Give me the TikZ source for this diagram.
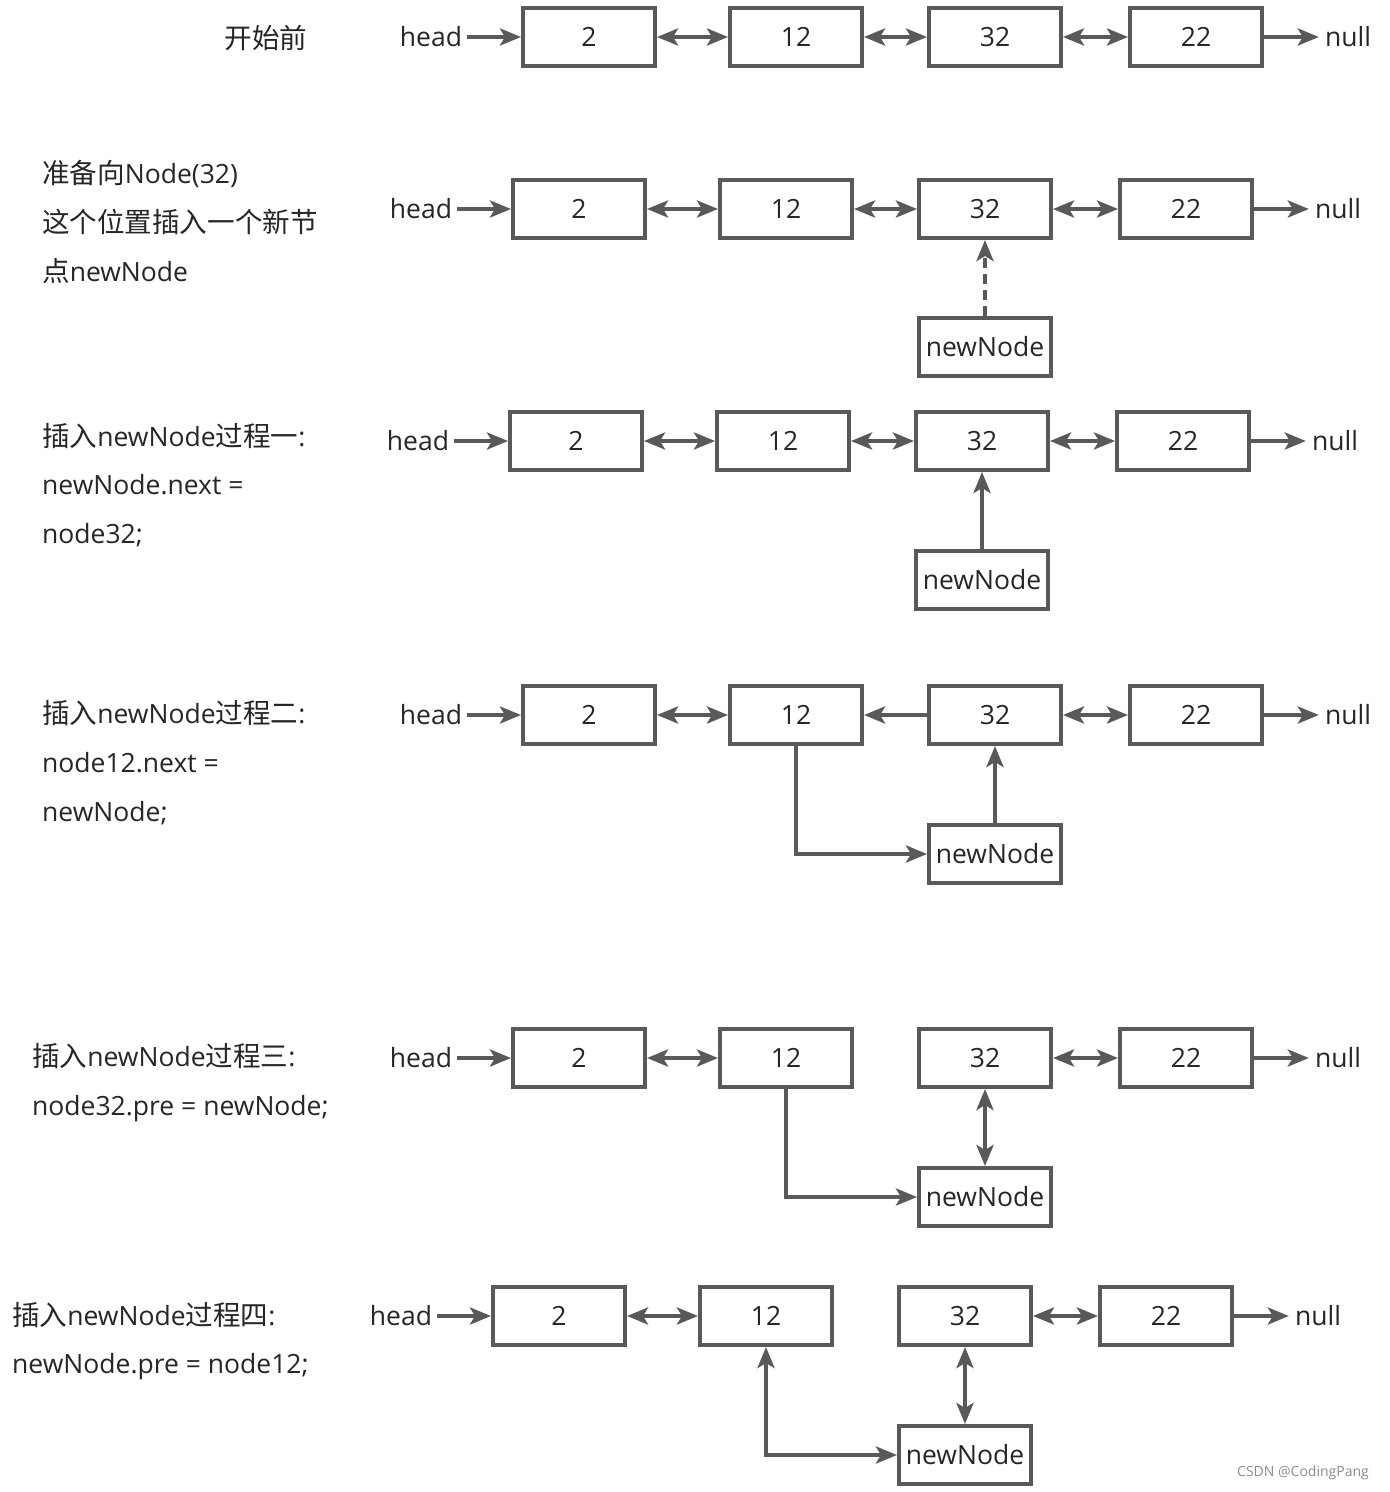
\documentclass[tikz,border=0pt]{standalone}
\usepackage{fontspec}
\setmainfont{Open Sans}
\newfontfamily\cjk[Scale=1.04]{Noto Sans CJK SC}
\usetikzlibrary{arrows.meta}
\definecolor{ln}{HTML}{595959}
\definecolor{tx}{HTML}{262626}
\tikzset{
  tipst/.tip={Stealth[length=21pt,width=17pt,inset=5pt]},
  lbox/.style={draw=ln, line width=4pt, minimum width=132pt, minimum height=58pt, inner sep=0pt, text=tx, font=\fontsize{26.5}{30}\selectfont},
  side/.style={text=tx, inner sep=0pt, font=\fontsize{26.5}{30}\selectfont},
  note/.style={anchor=base west, text=tx, inner sep=0pt, font=\fontsize{26.5}{30}\selectfont},
  conn/.style={draw=ln, line width=4pt, -tipst},
  dconn/.style={draw=ln, line width=4pt, tipst-tipst},
  dashconn/.style={conn, dash pattern=on 10pt off 6pt}
}
\newcommand\llrow[3]{%
  \node[lbox] (#1a) at (#2,#3) {2};
  \node[lbox] (#1b) at ({#2+207},#3) {12};
  \node[lbox] (#1c) at ({#2+406},#3) {32};
  \node[lbox] (#1d) at ({#2+607},#3) {22};
  \node[side, inner xsep=5pt] (#1h) at ({#2-158},#3) {head};
  \node[side, inner xsep=6pt] (#1n) at ({#2+759},#3) {null};
  \draw[conn] (#1h) -- (#1a);
  \draw[dconn] (#1a) -- (#1b);
  \draw[dconn] (#1c) -- (#1d);
  \draw[conn] (#1d) -- (#1n);
}
\begin{document}
\begin{tikzpicture}[x=1pt,y=-1pt]
\useasboundingbox[fill=white] (0,0) rectangle (1390,1492);

% row 1
\node[side] (t1) at (266,38) {\cjk 开始前};
\llrow{r1}{589}{37}
\draw[dconn] (r1b) -- (r1c);

% row 2
\node[note] (t2a) at (42,183) {\cjk 准备向\rmfamily Node(32)};
\node[note] (t2b) at (42,232) {\cjk 这个位置插入一个新节};
\node[note] (t2c) at (42,281) {\cjk 点\rmfamily newNode};
\llrow{r2}{579}{209}
\draw[dconn] (r2b) -- (r2c);
\node[lbox] (r2new) at (985,347) {newNode};
\draw[dashconn] (r2new) -- (r2c);

% row 3
\node[note] (t3a) at (42,446) {{\cjk 插入}newNode{\cjk 过程一}:};
\node[note] (t3b) at (42,494) {newNode.next =};
\node[note] (t3c) at (42,543) {node32;};
\llrow{r3}{576}{441}
\draw[dconn] (r3b) -- (r3c);
\node[lbox] (r3new) at (982,580) {newNode};
\draw[conn] (r3new) -- (r3c);

% row 4
\node[note] (t4a) at (42,723) {{\cjk 插入}newNode{\cjk 过程二}:};
\node[note] (t4b) at (42,772) {node12.next =};
\node[note] (t4c) at (42,821) {newNode;};
\llrow{r4}{589}{715}
\draw[conn] (r4c) -- (r4b);
\node[lbox] (r4new) at (995,854) {newNode};
\draw[conn] (r4new) -- (r4c);
\draw[conn] (r4b.south) |- (r4new.west);

% row 5
\node[note] (t5a) at (32,1066) {{\cjk 插入}newNode{\cjk 过程三}:};
\node[note] (t5b) at (32,1115) {node32.pre = newNode;};
\llrow{r5}{579}{1058}
\node[lbox] (r5new) at (985,1197) {newNode};
\draw[dconn] (r5new) -- (r5c);
\draw[conn] (r5b.south) |- (r5new.west);

% row 6
\node[note] (t6a) at (12,1325) {{\cjk 插入}newNode{\cjk 过程四}:};
\node[note] (t6b) at (12,1373) {newNode.pre = node12;};
\llrow{r6}{559}{1316}
\node[lbox] (r6new) at (965,1455) {newNode};
\draw[dconn] (r6new) -- (r6c);
\draw[dconn] (r6new.west) -| (r6b.south);

% watermark
\node[text=black!45, inner sep=0pt, font=\fontsize{14}{16}\selectfont] (wm) at (1303,1473) {CSDN @CodingPang};
\end{tikzpicture}
\end{document}
